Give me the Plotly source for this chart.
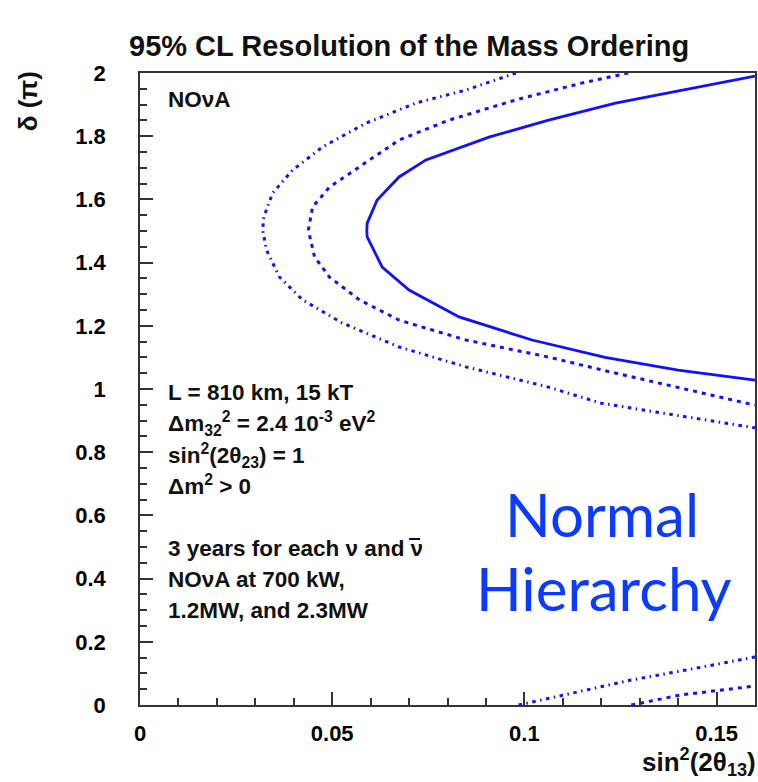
import plotly.graph_objects as go

# 95% CL mass-ordering contours: delta_CP (units of pi) vs sin^2(2theta13)
# Upper branch of each contour (C-shaped, opening toward large sin^2(2theta13))
delta_23mw = [1.99, 1.946, 1.905, 1.851, 1.797, 1.725, 1.671, 1.598, 1.525, 1.50,
              1.481, 1.386, 1.313, 1.228, 1.155, 1.10, 1.06, 1.028]
s2t_23mw = [0.160, 0.1408, 0.1237, 0.1063, 0.0908, 0.0744, 0.0674, 0.0617, 0.0591, 0.0590,
            0.0591, 0.063, 0.070, 0.083, 0.102, 0.121, 0.140, 0.160]

delta_12mw = [2.0, 1.968, 1.915, 1.851, 1.788, 1.703, 1.639, 1.576, 1.503, 1.418,
              1.354, 1.282, 1.218, 1.155, 1.101, 1.055, 1.0, 0.949]
s2t_12mw = [0.127, 0.1149, 0.0978, 0.0804, 0.0674, 0.0571, 0.0493, 0.0449, 0.0438, 0.0454,
            0.0493, 0.0571, 0.0674, 0.0848, 0.1063, 0.122, 0.142, 0.160]

delta_700kw = [2.0, 1.946, 1.905, 1.842, 1.766, 1.693, 1.620, 1.544, 1.503, 1.440,
               1.354, 1.282, 1.209, 1.133, 1.07, 1.006, 0.955, 0.915, 0.877]
s2t_700kw = [0.0978, 0.0848, 0.0718, 0.0589, 0.0475, 0.0397, 0.0345, 0.0322, 0.0319, 0.0329,
             0.0363, 0.0423, 0.0526, 0.0674, 0.0848, 0.1063, 0.120, 0.140, 0.160]

# Lower branches that re-enter near delta = 0
delta_12mw_low = [0.0, 0.032, 0.06]
s2t_12mw_low = [0.1278, 0.1408, 0.160]
delta_700kw_low = [0.0, 0.04, 0.079, 0.115, 0.152]
s2t_700kw_low = [0.0985, 0.113, 0.1278, 0.144, 0.160]

x_tickvals = [0, 0.05, 0.1, 0.15]
x_ticktext = ["0", "0.05", "0.1", "0.15"]
y_tickvals = [0, 0.2, 0.4, 0.6, 0.8, 1.0, 1.2, 1.4, 1.6, 1.8, 2.0]
y_ticktext = ["0", "0.2", "0.4", "0.6", "0.8", "1", "1.2", "1.4", "1.6", "1.8", "2"]

info_lines = [
    "<b>L = 810 km, 15 kT</b>",
    "<b>Δm<sub>32</sub><sup>2</sup> = 2.4 10<sup>-3</sup> eV<sup>2</sup></b>",
    "<b>sin<sup>2</sup>(2θ<sub>23</sub>) = 1</b>",
    "<b>Δm<sup>2</sup> > 0</b>",
    "<b>3 years for each ν and ν</b>",
    "<b>NOνA at 700 kW,</b>",
    "<b>1.2MW, and 2.3MW</b>",
]
info_rows_px = [392, 423, 455, 485, 548, 579, 610]

W, H = 758, 782
ML, MR, MT, MB = 140, 1, 73, 77
PW, PH = W - ML - MR, H - MT - MB


def px(xp):
    return (xp - ML) / PW


def py(yp):
    return (H - MB - yp) / PH


BLUE = "#1010ff"
FONT = "Liberation Sans, Arial, Helvetica, sans-serif"

fig = go.Figure()

fig.add_trace(go.Scatter(x=s2t_23mw, y=delta_23mw, mode="lines",
                         line=dict(color=BLUE, width=2.8), showlegend=False))
for xs, ys in [(s2t_12mw, delta_12mw), (s2t_12mw_low, delta_12mw_low)]:
    fig.add_trace(go.Scatter(x=xs, y=ys, mode="lines",
                             line=dict(color=BLUE, width=3, dash="4px,5px"),
                             showlegend=False))
for xs, ys in [(s2t_700kw, delta_700kw), (s2t_700kw_low, delta_700kw_low)]:
    fig.add_trace(go.Scatter(x=xs, y=ys, mode="lines",
                             line=dict(color=BLUE, width=3, dash="3.5px,4.5px,1.5px,4.5px"),
                             showlegend=False))

axis_common = dict(
    showline=True, linecolor="#333", linewidth=1.5, mirror=True,
    ticks="inside", ticklen=13, tickwidth=1.5, tickcolor="#333",
    showgrid=False, zeroline=False,
    tickfont=dict(family=FONT, size=22, color="black", weight="bold"),
)

fig.update_xaxes(range=[0, 0.16], tickmode="array", tickvals=x_tickvals, ticktext=x_ticktext,
                 minor=dict(tickmode="linear", tick0=0, dtick=0.01, ticks="inside",
                            ticklen=7, tickwidth=1.5, tickcolor="#333", showgrid=False),
                 ticklabelstandoff=8, **axis_common)
fig.update_yaxes(range=[0, 2], tickmode="array", tickvals=y_tickvals, ticktext=y_ticktext,
                 minor=dict(tickmode="linear", tick0=0, dtick=0.05, ticks="inside",
                            ticklen=7, tickwidth=1.5, tickcolor="#333", showgrid=False),
                 ticklabelstandoff=28, **axis_common)

TXT = dict(family=FONT, size=22.5, color="#111")
annotations = [
    dict(text="<b>95% CL Resolution of the Mass Ordering</b>", x=px(410), y=py(46),
         font=dict(family=FONT, size=29, color="#111")),
    dict(text="<b>δ (π)</b>", x=px(28), y=py(101), textangle=-90,
         font=dict(family=FONT, size=26, color="#111")),
    dict(text="<b>sin<sup>2</sup>(2θ<sub>13</sub>)</b>", x=px(760), y=py(762), xanchor="right",
         font=dict(family=FONT, size=26, color="#111")),
    dict(text="<b>NOνA</b>", x=px(166), y=py(99), xanchor="left", font=TXT),
    dict(text="Normal", x=px(604), y=py(514),
         font=dict(family="Lato, sans-serif", size=60, color="#0b3bff")),
    dict(text="Hierarchy", x=px(606), y=py(588),
         font=dict(family="Lato, sans-serif", size=60, color="#0b3bff")),
]
for line, row in zip(info_lines, info_rows_px):
    annotations.append(dict(text=line, x=px(166), y=py(row), xanchor="left", font=TXT))

for a in annotations:
    a.setdefault("xanchor", "center")
    a.update(xref="paper", yref="paper", yanchor="middle", showarrow=False)

# bar over the final nu, making it an antineutrino
antinu_bar = dict(type="line", xref="paper", yref="paper",
                  x0=px(410), x1=px(421), y0=py(539), y1=py(539),
                  line=dict(color="#111", width=2))

fig.update_layout(
    width=W, height=H,
    margin=dict(l=ML, r=MR, t=MT, b=MB),
    paper_bgcolor="white", plot_bgcolor="white",
    annotations=annotations,
    shapes=[antinu_bar],
)

fig.write_html("out.html")
